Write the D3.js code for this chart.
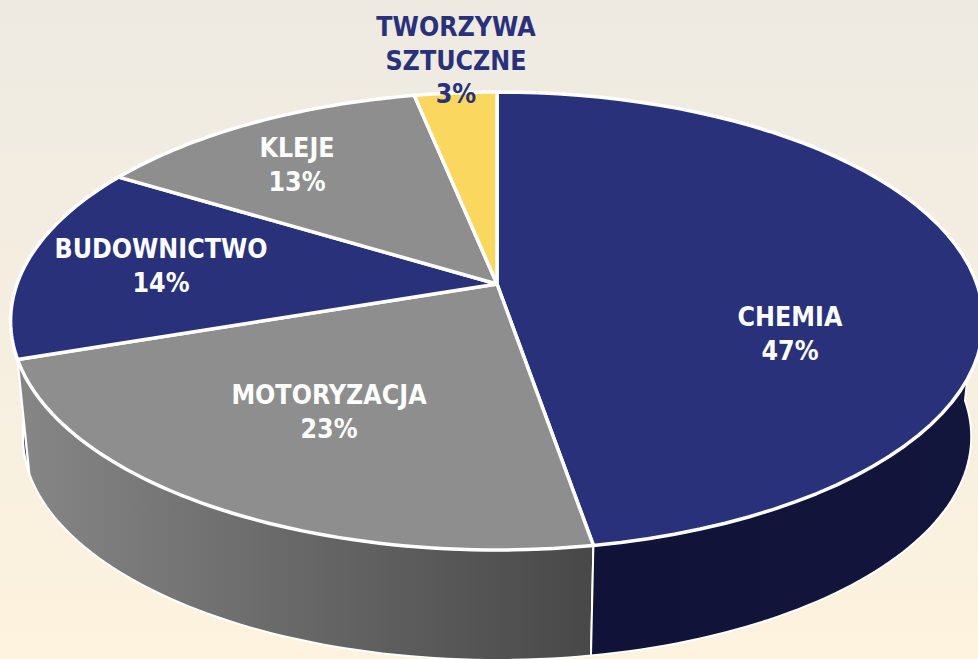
<!DOCTYPE html>
<html>
<head>
<meta charset="utf-8">
<script src="https://cdn.jsdelivr.net/npm/d3@7"></script>
<style>
  html, body { margin: 0; padding: 0; overflow: hidden; }
  svg { display: block; }
  text { font-family: "DejaVu Sans Condensed", "DejaVu Sans", sans-serif; font-stretch: condensed; font-weight: 700; font-size: 26.5px; text-anchor: middle; }
</style>
</head>
<body>
<div id="chart"></div>
<script>
// chart values, clockwise from 12 o'clock
const categories = ["CHEMIA", "MOTORYZACJA", "BUDOWNICTWO", "KLEJE", "TWORZYWA SZTUCZNE"];
// slice sizes as measured on the picture, the printed numbers are rounded
const shares = [47.3, 22.5, 13.9, 13.1, 3.2];
const printed = ["47%", "23%", "14%", "13%", "3%"];

const WIDTH = 978, HEIGHT = 659;

// top face : circle seen in perspective, wall bottom is the same outline pulled to a far vanishing point
const CX = 497, CY = 284, RX = 480, RY = 223, PERSP = 0.1616;
const WALL_SCALE = 0.975, VANISH_Y = 4950;

const topColors  = ["#28317a", "#8e8e8e", "#28317a", "#8e8e8e", "#fad85f"];
const textColors = ["#ffffff", "#ffffff", "#ffffff", "#ffffff", "#28317a"];
// label line break and place, by slice
const labelLines = [["CHEMIA"], ["MOTORYZACJA"], ["BUDOWNICTWO"], ["KLEJE"], ["TWORZYWA", "SZTUCZNE"]];
const labelPlace = [[790, 326], [329, 404], [161, 258], [297, 157], [456, 36]];
const LINE_H = 33.5;

const svg = d3.select("#chart").append("svg")
    .attr("width", WIDTH)
    .attr("height", HEIGHT);

const defs = svg.append("defs");
const bg = defs.append("linearGradient").attr("id", "bg")
    .attr("x1", 0).attr("y1", 0).attr("x2", 0).attr("y2", 1);
bg.append("stop").attr("offset", "0%").attr("stop-color", "#eeeae2");
bg.append("stop").attr("offset", "100%").attr("stop-color", "#fdf3de");

const grayWall = defs.append("linearGradient").attr("id", "grayWall")
    .attr("gradientUnits", "userSpaceOnUse")
    .attr("x1", 20).attr("y1", 0).attr("x2", 592).attr("y2", 0);
grayWall.append("stop").attr("offset", "0%").attr("stop-color", "#868686");
grayWall.append("stop").attr("offset", "100%").attr("stop-color", "#484848");

const navyWall = defs.append("linearGradient").attr("id", "navyWall")
    .attr("gradientUnits", "userSpaceOnUse")
    .attr("x1", 592).attr("y1", 0).attr("x2", 978).attr("y2", 0);
navyWall.append("stop").attr("offset", "0%").attr("stop-color", "#101237");
navyWall.append("stop").attr("offset", "100%").attr("stop-color", "#13163c");

const wallFills = ["url(#navyWall)", "url(#grayWall)", "#28317a", null, null];
const wallStroke = [2, 2, 2.5, 0, 0];

svg.append("rect")
    .attr("width", WIDTH)
    .attr("height", HEIGHT)
    .attr("fill", "url(#bg)");

// angle in radians from 12 o'clock -> point on top face
function project(a, f = 1) {
    const X = Math.sin(a) * f, Y = -Math.cos(a) * f;
    const w = 1 - PERSP * Y;
    return [CX + RX * X / w, CY + RY * Y / w];
}
function drop(p) {
    return [CX + WALL_SCALE * (p[0] - CX), VANISH_Y + WALL_SCALE * (p[1] - VANISH_Y)];
}
function rimPoints(a0, a1) {
    return d3.range(0, 61).map(i => project(a0 + (a1 - a0) * i / 60));
}

const slices = d3.pie().sort(null).value(d => d)(shares);
const line = d3.line();

// walls, only the part of the rim that faces us; the dark one goes last to sit over the blue sliver
const FRONT0 = Math.PI / 2, FRONT1 = Math.PI * 1.5;
svg.append("g").selectAll("path")
    .data(slices.filter((d, i) => wallFills[i]).reverse())
    .join("path")
    .attr("d", d => {
        const rim = rimPoints(Math.max(d.startAngle, FRONT0), Math.min(d.endAngle, FRONT1));
        return line(rim.concat(rim.map(drop).reverse())) + "Z";
    })
    .attr("fill", d => wallFills[d.index])
    .attr("stroke", "#ffffff")
    .attr("stroke-width", d => wallStroke[d.index])
    .attr("stroke-linejoin", "round");

// top face
svg.append("g").selectAll("path")
    .data(slices)
    .join("path")
    .attr("d", d => line([[CX, CY]].concat(rimPoints(d.startAngle, d.endAngle))) + "Z")
    .attr("fill", d => topColors[d.index])
    .attr("stroke", "#ffffff")
    .attr("stroke-width", 3.5)
    .attr("stroke-linejoin", "round");

// labels
const labels = svg.append("g").selectAll("text")
    .data(slices)
    .join("text")
    .attr("fill", d => textColors[d.index]);
labels.each(function(d) {
    const [x, y] = labelPlace[d.index];
    const rows = labelLines[d.index].concat(printed[d.index]);
    d3.select(this).selectAll("tspan")
        .data(rows)
        .join("tspan")
        .attr("x", x)
        .attr("y", (r, i) => y + i * LINE_H)
        .text(r => r);
});
</script>
</body>
</html>
